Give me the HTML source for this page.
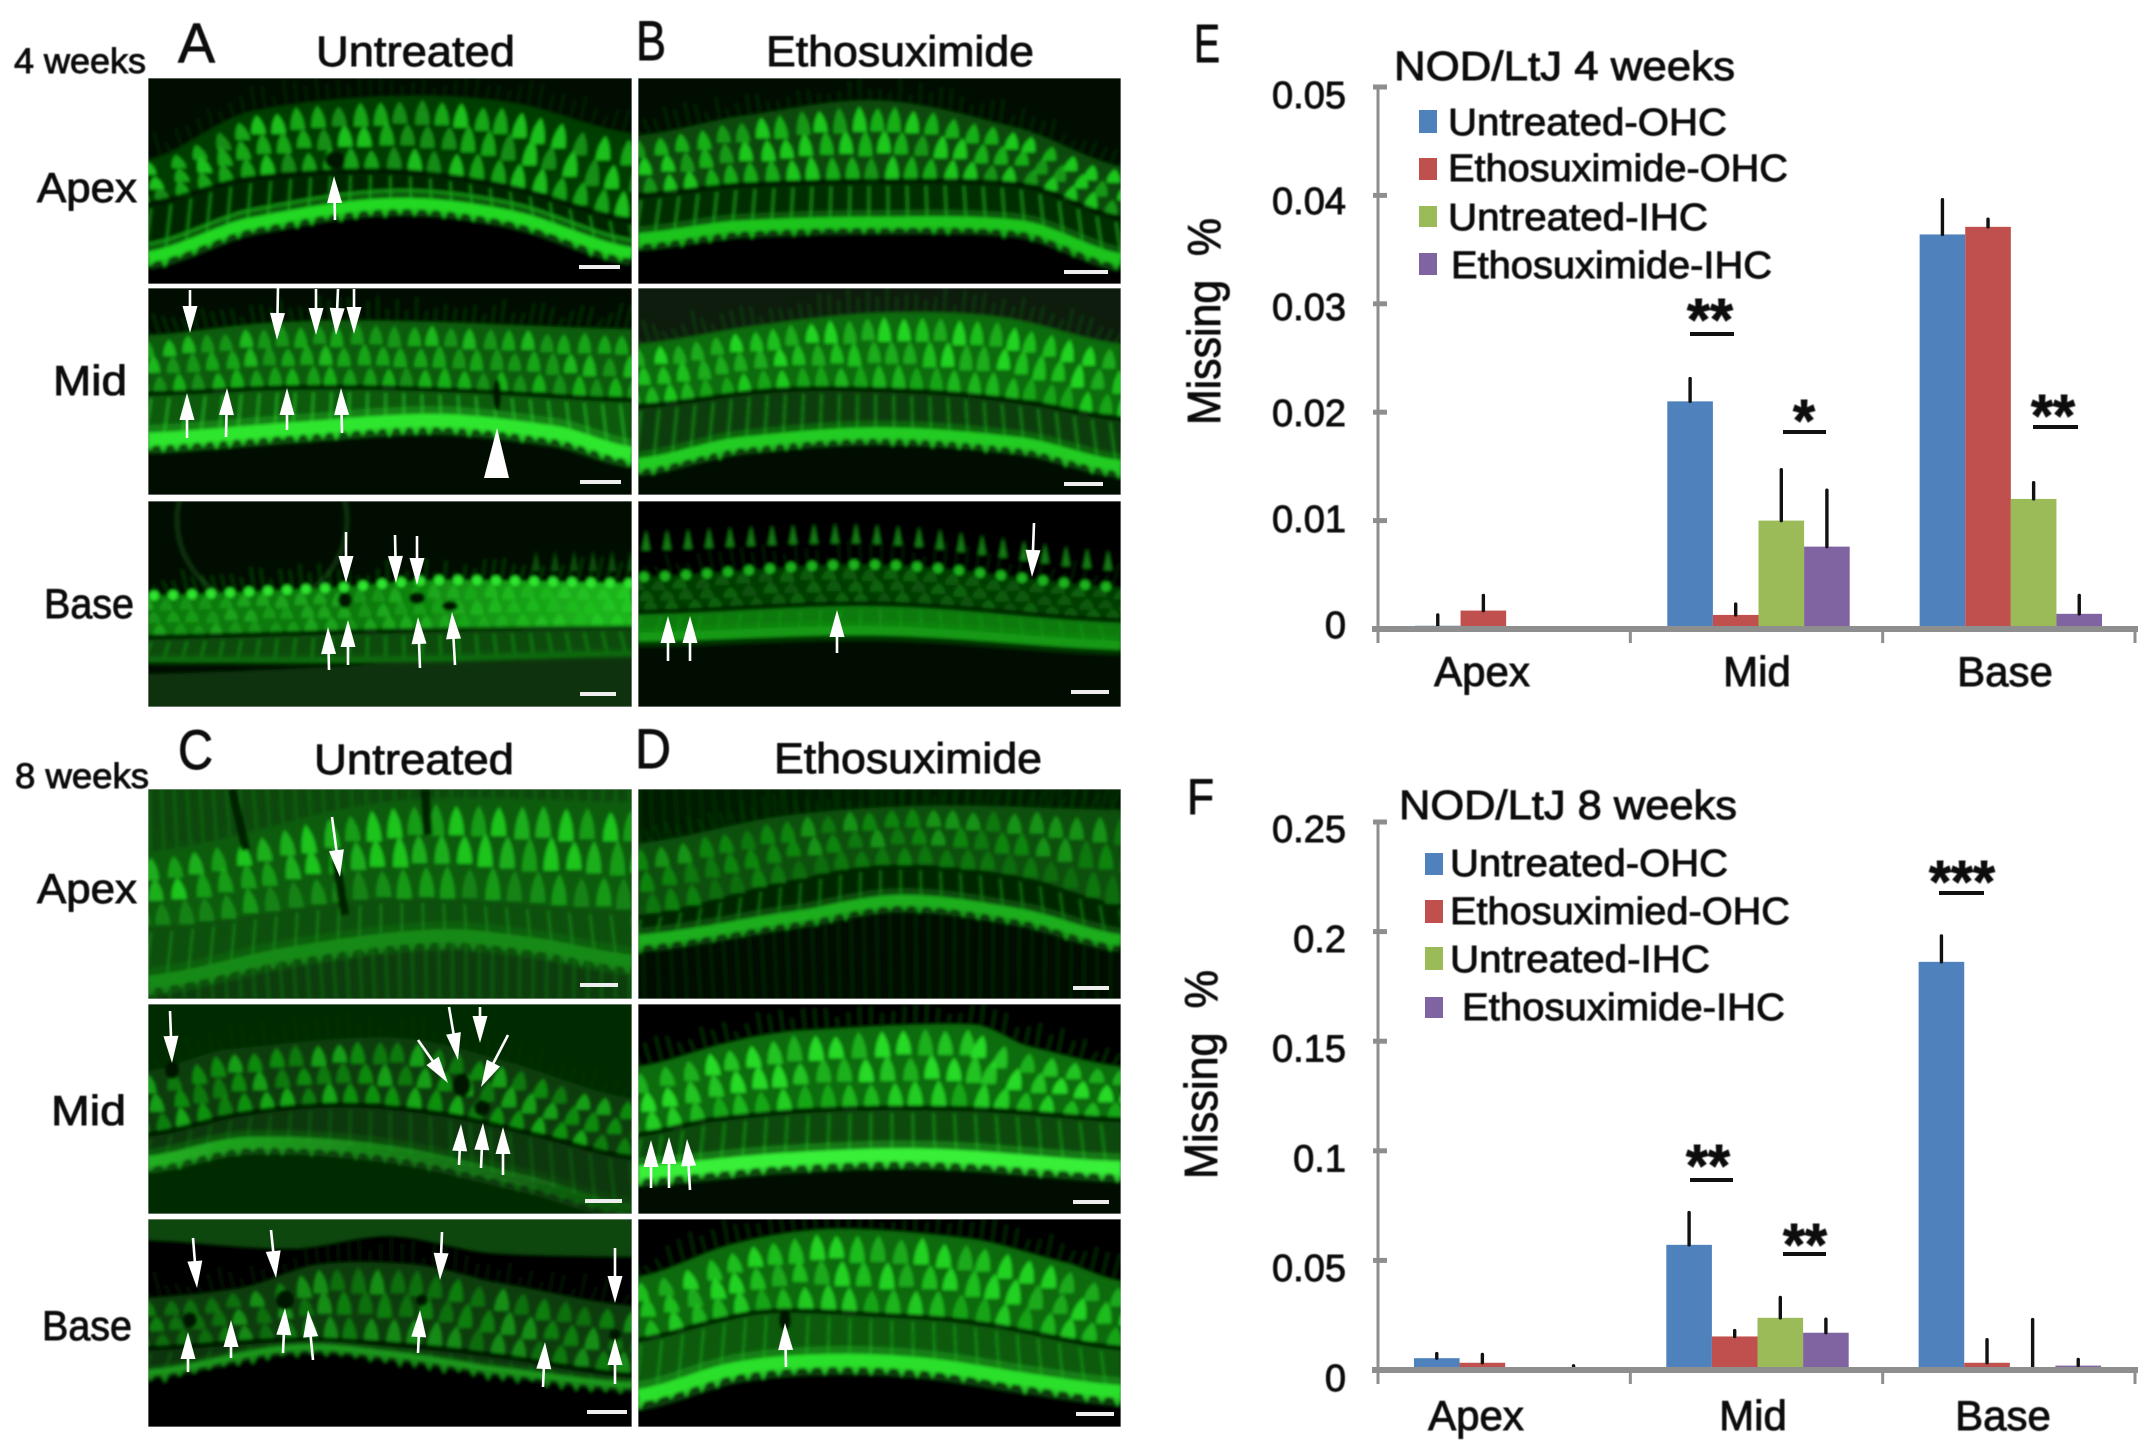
<!DOCTYPE html>
<html lang="en">
<head>
<meta charset="utf-8">
<title>Cochlear hair cell micrographs and missing-cell charts</title>
<style>
html,body{margin:0;padding:0;background:#fff;}
svg{display:block;}
text{font-family:"Liberation Sans",sans-serif;fill:#111;stroke:#111;stroke-width:.9px;}
</style>
</head>
<body>
<svg id="fig" xmlns="http://www.w3.org/2000/svg" width="2150" height="1454" viewBox="0 0 2150 1454">
  <defs>
    <filter id="soft" x="-5%" y="-5%" width="110%" height="110%"><feGaussianBlur stdDeviation="1.6"/></filter>
    <filter id="txtsoft" x="-2%" y="-2%" width="104%" height="104%"><feGaussianBlur stdDeviation="0.55"/></filter>
  </defs>
  <rect width="2150" height="1454" fill="#fff"/>
  <g id="micrographs"></g>
  <g id="arrows"></g>
  <g id="charts"></g>
  <g id="labels" filter="url(#txtsoft)">
    <text x="14" y="73" font-size="35" textLength="132" lengthAdjust="spacingAndGlyphs">4 weeks</text>
    <text x="178" y="62" font-size="56" textLength="37" lengthAdjust="spacingAndGlyphs">A</text>
    <text x="316" y="66" font-size="43" textLength="199" lengthAdjust="spacingAndGlyphs">Untreated</text>
    <text x="636" y="60" font-size="56" textLength="30" lengthAdjust="spacingAndGlyphs">B</text>
    <text x="766" y="66" font-size="43" textLength="268" lengthAdjust="spacingAndGlyphs">Ethosuximide</text>
    <text x="37" y="202" font-size="42" textLength="100" lengthAdjust="spacingAndGlyphs">Apex</text>
    <text x="53" y="395" font-size="42" textLength="74" lengthAdjust="spacingAndGlyphs">Mid</text>
    <text x="44" y="618" font-size="42" textLength="90" lengthAdjust="spacingAndGlyphs">Base</text>
    <text x="15" y="788" font-size="35" textLength="134" lengthAdjust="spacingAndGlyphs">8 weeks</text>
    <text x="178" y="769" font-size="56" textLength="35" lengthAdjust="spacingAndGlyphs">C</text>
    <text x="314" y="774" font-size="43" textLength="200" lengthAdjust="spacingAndGlyphs">Untreated</text>
    <text x="635" y="768" font-size="56" textLength="36" lengthAdjust="spacingAndGlyphs">D</text>
    <text x="774" y="773" font-size="43" textLength="268" lengthAdjust="spacingAndGlyphs">Ethosuximide</text>
    <text x="37" y="903" font-size="42" textLength="100" lengthAdjust="spacingAndGlyphs">Apex</text>
    <text x="51" y="1125" font-size="42" textLength="75" lengthAdjust="spacingAndGlyphs">Mid</text>
    <text x="42" y="1340" font-size="42" textLength="90" lengthAdjust="spacingAndGlyphs">Base</text>

    <text x="1194" y="62" font-size="54" textLength="26" lengthAdjust="spacingAndGlyphs">E</text>
    <text x="1394" y="80" font-size="41" textLength="341" lengthAdjust="spacingAndGlyphs">NOD/LtJ 4 weeks</text>
    <text x="1448" y="135" font-size="38" textLength="279" lengthAdjust="spacingAndGlyphs">Untreated-OHC</text>
    <text x="1448" y="181" font-size="38" textLength="340" lengthAdjust="spacingAndGlyphs">Ethosuximide-OHC</text>
    <text x="1448" y="230" font-size="38" textLength="260" lengthAdjust="spacingAndGlyphs">Untreated-IHC</text>
    <text x="1451" y="278" font-size="38" textLength="321" lengthAdjust="spacingAndGlyphs">Ethosuximide-IHC</text>
    <text transform="translate(1220,425) rotate(-90)" font-size="46" textLength="207" lengthAdjust="spacingAndGlyphs" xml:space="preserve">Missing  %</text>
    <text x="1687" y="340" font-size="59" font-weight="bold" textLength="46" lengthAdjust="spacingAndGlyphs">**</text>
    <text x="1793" y="441" font-size="59" font-weight="bold" textLength="22" lengthAdjust="spacingAndGlyphs">*</text>
    <text x="2031" y="436" font-size="59" font-weight="bold" textLength="44" lengthAdjust="spacingAndGlyphs">**</text>

    <text x="1187" y="814" font-size="50" textLength="27" lengthAdjust="spacingAndGlyphs">F</text>
    <text x="1399" y="819" font-size="41" textLength="338" lengthAdjust="spacingAndGlyphs">NOD/LtJ 8 weeks</text>
    <text x="1450" y="876" font-size="38" textLength="278" lengthAdjust="spacingAndGlyphs">Untreated-OHC</text>
    <text x="1450" y="924" font-size="38" textLength="340" lengthAdjust="spacingAndGlyphs">Ethosuximied-OHC</text>
    <text x="1450" y="972" font-size="38" textLength="260" lengthAdjust="spacingAndGlyphs">Untreated-IHC</text>
    <text x="1462" y="1020" font-size="38" textLength="323" lengthAdjust="spacingAndGlyphs">Ethosuximide-IHC</text>
    <text transform="translate(1217,1179) rotate(-90)" font-size="46" textLength="209" lengthAdjust="spacingAndGlyphs" xml:space="preserve">Missing  %</text>
    <text x="1929" y="902" font-size="59" font-weight="bold" textLength="66" lengthAdjust="spacingAndGlyphs">***</text>
    <text x="1686" y="1186" font-size="59" font-weight="bold" textLength="44" lengthAdjust="spacingAndGlyphs">**</text>
    <text x="1783" y="1265" font-size="59" font-weight="bold" textLength="44" lengthAdjust="spacingAndGlyphs">**</text>
  </g>
  <g id="static-marks">
    <rect x="1419" y="110" width="18" height="23" fill="#4f81bd"/>
    <rect x="1419" y="158" width="18" height="22" fill="#c0504d"/>
    <rect x="1419" y="206" width="18" height="21" fill="#9bbb59"/>
    <rect x="1419" y="253" width="18" height="22" fill="#8064a2"/>
    <rect x="1690" y="332" width="44" height="4" fill="#111"/>
    <rect x="1783" y="430" width="43" height="4" fill="#111"/>
    <rect x="2033" y="425" width="45" height="4" fill="#111"/>
    <rect x="1425" y="853" width="18" height="22" fill="#4f81bd"/>
    <rect x="1425" y="900" width="18" height="23" fill="#c0504d"/>
    <rect x="1425" y="947" width="18" height="23" fill="#9bbb59"/>
    <rect x="1425" y="997" width="18" height="21" fill="#8064a2"/>
    <rect x="1939" y="891" width="45" height="4" fill="#111"/>
    <rect x="1690" y="1178" width="43" height="4" fill="#111"/>
    <rect x="1783" y="1252" width="43" height="4" fill="#111"/>
  </g>
</svg>
<script>
// ---------- chart data ----------
const categories = ['Apex', 'Mid', 'Base'];
const seriesNames = ['untreated-ohc', 'ethosuximide-ohc', 'untreated-ihc', 'ethosuximide-ihc'];
const seriesColors = ['#4f81bd', '#c0504d', '#9bbb59', '#8064a2'];

const ticksE = [0, 0.01, 0.02, 0.03, 0.04, 0.05];
const untreatedOhcE = [0.0003, 0.021, 0.0364];
const ethosuximideOhcE = [0.0017, 0.0013, 0.0371];
const untreatedIhcE = [0, 0.01, 0.012];
const ethosuximideIhcE = [0, 0.0076, 0.0014];
const untreatedOhcErrTopE = [0.0013, 0.0231, 0.0396];
const ethosuximideOhcErrTopE = [0.0031, 0.0023, 0.0378];
const untreatedIhcErrTopE = [0, 0.0147, 0.0135];
const ethosuximideIhcErrTopE = [0, 0.0128, 0.0031];

const ticksF = ['0', '0.05', '0.1', '0.15', '0.2', '0.25'];
const untreatedOhcF = [0.0054, 0.0571, 0.1862];
const ethosuximideOhcF = [0.0033, 0.0153, 0.0033];
const untreatedIhcF = [0, 0.0238, 0];
const ethosuximideIhcF = [0, 0.017, 0.002];
const untreatedOhcErrTopF = [0.0075, 0.0718, 0.198];
const ethosuximideOhcErrTopF = [0.0071, 0.018, 0.0138];
const untreatedIhcErrTopF = [0, 0.0331, 0.023];
const ethosuximideIhcErrTopF = [0.0019, 0.0232, 0.0048];

// ---------- helpers ----------
const NS = 'http://www.w3.org/2000/svg';
function mk(tag, attrs, parent) {
  const e = document.createElementNS(NS, tag);
  for (const k in attrs) e.setAttribute(k, attrs[k]);
  if (parent) parent.appendChild(e);
  return e;
}

// ---------- charts ----------
function drawChart(layout, ticks, values, errTops) {
  const root = document.getElementById('charts');
  const g = mk('g', {}, root);
  
  
  const yMax = Number(ticks[ticks.length - 1]);
  const yScale = v => layout.y0 - (v / yMax) * (layout.y0 - layout.yTop);
  const groupW = (layout.xRight - layout.xLeft) / categories.length;
  const barW = layout.barW;
  const xScale = (c, s) => layout.xLeft + groupW * (c + 0.5) + layout.shift + (s - 2) * barW;
  const labelY = t => layout.labelTop + (1 - t / yMax) * (layout.labelBottom - layout.labelTop);

  values.forEach((series, s) => {
    series.forEach((v, c) => {
      const x = xScale(c, s);
      if (v > 0) {
        const bar = mk('rect', { x: x, y: yScale(v), width: barW, height: layout.y0 - yScale(v), fill: seriesColors[s] }, g);
        
        
      }
      const top = errTops[s][c];
      if (top > 0) {
        const err = mk('line', { x1: x + barW / 2, x2: x + barW / 2, y1: yScale(v), y2: yScale(top), stroke: '#111', 'stroke-width': 3.4, 'stroke-linecap': 'round' }, g);
        
        
      }
    });
  });

  const yAxis = mk('line', { x1: layout.xLeft, x2: layout.xLeft, y1: yScale(yMax), y2: layout.y0 + 14, stroke: '#8e8e8e', 'stroke-width': 3 }, g);
  
  
  const xAxis = mk('line', { x1: layout.xLeft - 6, x2: layout.xRight + 3, y1: layout.y0, y2: layout.y0, stroke: '#8e8e8e', 'stroke-width': 6 }, g);
  
  

  ticks.forEach(t => {
    const val = Number(t);
    if (val > 0) {
      const tick = mk('line', { x1: layout.xLeft - 5, x2: layout.xLeft + 9, y1: yScale(val), y2: yScale(val), stroke: '#8e8e8e', 'stroke-width': 5 }, g);
      
      
    }
    const lab = mk('text', { x: layout.labelX, y: labelY(val), 'font-size': 38, 'text-anchor': 'end', filter: 'url(#txtsoft)' }, g);
    lab.textContent = String(t);
    
    
  });

  for (let i = 0; i <= categories.length; i++) {
    const tx = layout.xLeft + groupW * i;
    const xt = mk('line', { x1: tx, x2: tx, y1: layout.y0, y2: layout.y0 + 14, stroke: '#8e8e8e', 'stroke-width': 3 }, g);
    
    
  }
  categories.forEach((cat, c) => {
    const lx = mk('text', { x: layout.catX[c], y: layout.catY, 'font-size': 42, 'text-anchor': 'middle', filter: 'url(#txtsoft)' }, g);
    lx.textContent = cat;
    
    
  });
}

drawChart(
  { name: 'chart-e', xLeft: 1378, xRight: 2135, y0: 629, yTop: 87, barW: 45.6, shift: 2, labelX: 1346, labelTop: 108, labelBottom: 638, catX: [1482, 1757, 2005], catY: 686 },
  ticksE,
  [untreatedOhcE, ethosuximideOhcE, untreatedIhcE, ethosuximideIhcE],
  [untreatedOhcErrTopE, ethosuximideOhcErrTopE, untreatedIhcErrTopE, ethosuximideIhcErrTopE]
);
drawChart(
  { name: 'chart-f', xLeft: 1378, xRight: 2135, y0: 1370, yTop: 822, barW: 45.6, shift: 1, labelX: 1346, labelTop: 842, labelBottom: 1391, catX: [1476, 1753, 2003], catY: 1430 },
  ticksF,
  [untreatedOhcF, ethosuximideOhcF, untreatedIhcF, ethosuximideIhcF],
  [untreatedOhcErrTopF, ethosuximideOhcErrTopF, untreatedIhcErrTopF, ethosuximideIhcErrTopF]
);

// ---------- micrograph rendering ----------
function cv(pts, t) {
  if (t <= pts[0][0]) return pts[0][1];
  const n = pts.length;
  if (t >= pts[n - 1][0]) return pts[n - 1][1];
  let i = 0;
  while (t > pts[i + 1][0]) i++;
  const p0 = pts[Math.max(i - 1, 0)][1], p1 = pts[i][1], p2 = pts[i + 1][1], p3 = pts[Math.min(i + 2, n - 1)][1];
  const u = (t - pts[i][0]) / (pts[i + 1][0] - pts[i][0]);
  return 0.5 * (2 * p1 + (p2 - p0) * u + (2 * p0 - 5 * p1 + 4 * p2 - p3) * u * u + (3 * p1 - p0 - 3 * p2 + p3) * u * u * u);
}
function f1(v) { return v.toFixed(1); }
function grain(i, j) { const s = Math.sin(i * 12.9898 + j * 78.233) * 43758.5453; return s - Math.floor(s); }

const colA = [148, 484], colB = [638, 483];
const panels = [
  { id: 'a-apex', x: colA[0], y: 78, w: colA[1], h: 206, bg: '#031003', body: '#063c06', c1: '#1cc01c', c2: '#1abc1a', low: '#052805', edge: '#22d822', edgeW: 11, streak: '#149614', pitch: 21, below: '#010501', thin: '#18a818',
    top: [[0,.40],[.2,.17],[.5,.09],[.75,.12],[1,.27]], gap: [[0,.61],[.2,.49],[.5,.45],[.75,.53],[1,.69]], edgeC: [[0,.87],[.2,.71],[.5,.61],[.75,.67],[1,.85]], holes: [[335,160,10,9]] },
  { id: 'a-mid', x: colA[0], y: 288, w: colA[1], h: 207, bg: '#021002', body: '#0a5c0a', c1: '#1cb81c', c2: '#18b018', low: '#0a5a0a', edge: '#2ee62e', edgeW: 13, streak: '#22b422', pitch: 19, below: '#011001',
    top: [[0,.23],[.25,.17],[.5,.16],[1,.20]], gap: [[0,.51],[.3,.48],[.6,.49],[1,.54]], edgeC: [[0,.73],[.3,.68],[.6,.64],[.85,.70],[1,.80]], holes: [[497,395,4,16]] },
  { id: 'a-base', x: colA[0], y: 501, w: colA[1], h: 206, bg: '#020e02', body: '#0d7a0d', c1: '#1aa41a', c2: '#1aa41a', low: '#0a4c0a', edge: '#0c6a0c', edgeW: 5, streak: '#108a10', pitch: 19, below: '#093009', belowStart: .84, dots: '#2ee62e', noTeeth: true,
    top: [[0,.46],[.4,.42],[.6,.385],[1,.40]], gap: [[0,.66],[.5,.63],[1,.61]], edgeC: [[0,.77],[.5,.77],[1,.74]], holes: [[345,600,7,8],[417,598,8,6],[450,606,8,5]], cones: [[.8,.3],[1,.3]], coneColor: '#0a4c0a', ring: [262,520,85], glowBand: '#2ae62a' },
  { id: 'b-apex', x: colB[0], y: 78, w: colB[1], h: 206, bg: '#031003', body: '#074a07', c1: '#1cc81c', c2: '#1cc41c', low: '#052e05', edge: '#1cc41c', edgeW: 11, streak: '#189e18', pitch: 20, below: '#010501',
    top: [[0,.28],[.2,.19],[.5,.11],[.8,.25],[1,.43]], gap: [[0,.57],[.2,.52],[.5,.50],[.8,.52],[1,.68]], edgeC: [[0,.78],[.2,.72],[.5,.70],[.8,.72],[1,.88]] },
  { id: 'b-mid', x: colB[0], y: 288, w: colB[1], h: 207, bg: '#0b1a0b', body: '#0c6c0c', c1: '#24d424', c2: '#1ec81e', low: '#083e08', edge: '#24cc24', edgeW: 11, streak: '#1a8e1a', pitch: 19, below: '#040d04',
    top: [[0,.27],[.25,.18],[.5,.12],[.75,.14],[1,.27]], gap: [[0,.57],[.3,.49],[.6,.50],[.8,.55],[1,.63]], edgeC: [[0,.85],[.2,.75],[.5,.70],[.8,.75],[1,.86]] },
  { id: 'b-base', x: colB[0], y: 501, w: colB[1], h: 206, bg: '#010401', body: '#063c06', c1: '#0d620d', c2: '#0d620d', low: '#0f7a0f', edge: '#129a12', edgeW: 9, streak: '#149214', pitch: 21, below: '#021002', dots: '#1fb41f', noTeeth: true,
    top: [[0,.37],[.5,.31],[1,.42]], gap: [[0,.54],[.5,.50],[1,.58]], edgeC: [[0,.66],[.5,.63],[1,.70]], cones: [[0,.2],[.5,.17],[1,.3]], coneColor: '#157a15' },
  { id: 'c-apex', x: colA[0], y: 789, w: colA[1], h: 210, bg: '#0a460a', body: '#0d5c0d', c1: '#1ec41e', c2: '#169a16', low: '#0b500b', edge: '#188a18', edgeW: 13, streak: '#1a861a', pitch: 22, below: '#083c08', streaksAll: true, streakOp: .5, noGap: true,
    top: [[0,.30],[.5,.06],[1,.06]], gap: [[0,.66],[.5,.52],[1,.58]], edgeC: [[0,.92],[.3,.78],[.6,.70],[.8,.74],[1,.82]], cracks: [[232,789,246,850],[425,789,428,835],[336,860,345,915]] },
  { id: 'c-mid', x: colA[0], y: 1004, w: colA[1], h: 210, bg: '#062a06', body: '#083e08', c1: '#149e14', c2: '#14a614', low: '#083808', edge: '#22b022', edgeW: 11, streak: '#0e5e0e', pitch: 21, below: '#062c06', edgeOps: [1, .55, .2],
    top: [[0,.32],[.15,.22],[.5,.16],[.7,.25],[1,.45]], gap: [[0,.62],[.2,.52],[.4,.48],[.6,.52],[.8,.62],[1,.73]], edgeC: [[0,.75],[.2,.66],[.5,.70],[.8,.85],[1,.98]], holes: [[172,1070,7,9],[462,1085,9,12],[482,1108,8,8]] },
  { id: 'c-base', x: colA[0], y: 1219, w: colA[1], h: 208, bg: '#000', body: '#083e08', c1: '#128e12', c2: '#128a12', low: '#083408', edge: '#1a961a', edgeW: 6, streak: '#0c5e0c', pitch: 21, below: '#000', topBand: '#0b460b',
    top: [[0,.38],[.2,.33],[.35,.22],[.55,.22],[.7,.30],[1,.42]], gap: [[0,.62],[.3,.58],[.5,.60],[.7,.65],[1,.75]], edgeC: [[0,.74],[.3,.62],[.5,.65],[.7,.72],[1,.80]], holes: [[190,1320,7,8],[285,1300,9,10],[422,1300,6,6],[615,1335,6,6]] },
  { id: 'd-apex', x: colB[0], y: 789, w: colB[1], h: 210, bg: '#041c04', body: '#0a500a', c1: '#129212', c2: '#0f800f', low: '#052805', edge: '#1cae1c', edgeW: 11, streak: '#0f7a0f', pitch: 21, below: '#021002', streaksAll: true, streakOp: .22, noGap: true,
    top: [[0,.26],[.3,.13],[.6,.08],[1,.10]], gap: [[0,.60],[.35,.42],[.55,.36],[.8,.42],[1,.55]], edgeC: [[0,.72],[.35,.60],[.55,.53],[.8,.60],[1,.72]] },
  { id: 'd-mid', x: colB[0], y: 1004, w: colB[1], h: 210, bg: '#010601', body: '#0c6c0c', c1: '#28da28', c2: '#20cc20', low: '#074a07', edge: '#38f038', edgeW: 13, streak: '#1a921a', pitch: 22, below: '#010701',
    top: [[0,.30],[.2,.18],[.32,.13],[.7,.10],[.8,.20],[1,.30]], gap: [[0,.62],[.15,.55],[.4,.50],[.7,.50],[1,.55]], edgeC: [[0,.80],[.3,.74],[.6,.72],[1,.78]] },
  { id: 'd-base', x: colB[0], y: 1219, w: colB[1], h: 208, bg: '#000', body: '#0b6a0b', c1: '#24d224', c2: '#20c820', low: '#0a5a0a', edge: '#2ae02a', edgeW: 13, streak: '#189618', pitch: 22, below: '#000',
    top: [[0,.28],[.2,.12],[.4,.05],[.7,.10],[.9,.22],[1,.30]], gap: [[0,.58],[.2,.47],[.3,.44],[.5,.46],[.7,.50],[1,.62]], edgeC: [[0,.85],[.2,.72],[.4,.68],[.6,.70],[.8,.77],[1,.83]], holes: [[785,1320,6,11]] }
];

function drawPanel(p, pi) {
  const root = document.getElementById('micrographs');
  const defs = document.querySelector('#fig defs');
  const clipId = 'clip-' + p.id;
  const clip = mk('clipPath', { id: clipId }, defs);
  mk('rect', { x: p.x, y: p.y, width: p.w, height: p.h }, clip);
  const outer = mk('g', { 'clip-path': 'url(#' + clipId + ')' }, root);
  
  
  const g = mk('g', { filter: 'url(#soft)' }, outer);
  mk('rect', { x: p.x - 8, y: p.y - 8, width: p.w + 16, height: p.h + 16, fill: p.bg }, g);

  const X = t => p.x + t * p.w;
  const Y = (c, t) => p.y + cv(c, t) * p.h;
  const N = 48;
  const line = c => {
    let s = '';
    for (let i = 0; i <= N; i++) s += (i ? 'L' : 'M') + f1(X(i / N)) + ' ' + f1(Y(c, i / N));
    return s;
  };
  const band = (a, b) => {
    let s = line(a);
    for (let i = N; i >= 0; i--) s += 'L' + f1(X(i / N)) + ' ' + f1(Y(b, i / N));
    return s + 'Z';
  };

  if (p.ring) mk('circle', { cx: p.ring[0], cy: p.ring[1], r: p.ring[2], fill: 'none', stroke: '#0a2e0a', 'stroke-width': 5 }, g);
  if (p.topBand) {
    mk('path', { d: band([[0, -.05], [1, -.05]], [[0, .1], [.3, .14], [.5, .08], [.7, .16], [1, .18]]), fill: p.topBand }, g);
  }
  const belowStart = p.belowStart ? [[0, p.belowStart], [1, p.belowStart - .1]] : p.edgeC;
  mk('path', { d: band(belowStart, [[0, 1.1], [1, 1.1]]), fill: p.below }, g);

  if (p.streaksAll) {
    let d = '';
    for (let x = p.x + 4; x < p.x + p.w; x += p.pitch * .62) {
      const t = (x - p.x) / p.w;
      const sl = (cv(p.top, Math.min(t + .02, 1)) - cv(p.top, Math.max(t - .02, 0))) / .04 * (p.h / p.w);
      d += 'M' + f1(x + sl * 30) + ' ' + p.y + 'L' + f1(x - sl * 30) + ' ' + (p.y + p.h);
    }
    mk('path', { d: d, stroke: p.streak, 'stroke-width': 2.2, fill: 'none', opacity: p.streakOp }, g);
  }

  // faint stereocilia fuzz above the top row
  let fz = '';
  for (let x = p.x + 2, n = 0; x < p.x + p.w; x += p.pitch * .5, n++) {
    const t = (x - p.x) / p.w;
    const y = Y(p.top, t);
    const ln = 8 + grain(n, pi) * 18;
    fz += 'M' + f1(x) + ' ' + f1(y) + 'L' + f1(x + (t - .5) * 14) + ' ' + f1(y - ln);
  }
  mk('path', { d: fz, stroke: p.body, 'stroke-width': 2.4, fill: 'none', opacity: .4 }, g);

  mk('path', { d: band(p.top, p.gap), fill: p.body }, g);
  mk('path', { d: band(p.gap, p.edgeC), fill: p.low }, g);

  // pillar streaks
  let sd = '';
  for (let x = p.x + 3; x < p.x + p.w; x += p.pitch * .95) {
    const t = (x - p.x) / p.w;
    sd += 'M' + f1(x) + ' ' + f1(Y(p.gap, t) + 5) + 'L' + f1(x + (t - .5) * 12) + ' ' + f1(Y(p.edgeC, t));
  }
  mk('path', { d: sd, stroke: p.streak, 'stroke-width': 2.6, fill: 'none', opacity: .75 }, g);

  // rows of outer hair cells, three brightness tiers
  const rows = [{ f: .22, c: p.c1, off: 0 }, { f: .52, c: p.c1, off: .33 }, { f: .84, c: p.c2, off: .66 }];
  rows.forEach((r, ri) => {
    const tiers = ['', '', ''];
    for (let k = -1; ; k++) {
      const cx0 = p.x + (k + r.off) * p.pitch + (grain(k, ri + pi) - .5) * 3;
      if (cx0 > p.x + p.w + p.pitch) break;
      const t = Math.min(Math.max((cx0 - p.x) / p.w, 0), 1);
      const yt = Y(p.top, t), yg = Y(p.gap, t);
      const rowH = (yg - yt) / 3;
      const cy = yt + (yg - yt) * r.f + (grain(ri + pi, k) - .5) * 3;
      const slope = (cv(p.top, Math.min(t + .02, 1)) - cv(p.top, Math.max(t - .02, 0))) / .04 * (p.h / p.w);
      const h = rowH * (.78 + grain(k + 3, ri) * .2), w = p.pitch * .68;
      const lean = slope * h * .55;
      const cx = cx0 - slope * (yg - cy) * .5;
      const d = 'M' + f1(cx + lean) + ' ' + f1(cy - h / 2) +
           'Q' + f1(cx + w / 2 + lean * .4) + ' ' + f1(cy - h * .1) + ' ' + f1(cx + w / 2) + ' ' + f1(cy + h / 2) +
           'L' + f1(cx - w / 2) + ' ' + f1(cy + h / 2) +
           'Q' + f1(cx - w / 2 + lean * .4) + ' ' + f1(cy - h * .1) + ' ' + f1(cx + lean) + ' ' + f1(cy - h / 2) + 'Z';
      tiers[Math.floor(grain(k * 2 + 1, ri + pi * 3) * 3)] += d;
    }
    [.62, .8, 1].forEach((op, i) => {
      mk('path', { d: tiers[i], fill: r.c, opacity: op }, g);
    });
  });

  if (!p.noGap) mk('path', { d: line(p.gap), stroke: '#021002', 'stroke-width': 5, fill: 'none', opacity: .75 }, g);

  if (p.glowBand) {
    const glowId = 'glow-' + p.id;
    const glowGrad = mk('linearGradient', { id: glowId, gradientUnits: 'userSpaceOnUse', x1: p.x, y1: 0, x2: p.x + p.w, y2: 0 }, defs);
    mk('stop', { offset: .45, 'stop-color': p.glowBand, 'stop-opacity': 0 }, glowGrad);
    mk('stop', { offset: .95, 'stop-color': p.glowBand, 'stop-opacity': .55 }, glowGrad);
    mk('path', { d: band(p.top, p.gap), fill: 'url(#' + glowId + ')' }, g);
  }

  if (p.dots) {
    let d = '';
    for (let x = p.x + 6; x < p.x + p.w; x += p.pitch) {
      const t = (x - p.x) / p.w;
      const y = Y(p.top, t);
      d += 'M' + f1(x - 5) + ' ' + f1(y) + 'a5 5 0 1 0 10 0a5 5 0 1 0 -10 0Z';
    }
    mk('path', { d: d, fill: p.dots }, g);
  }
  if (p.cones) {
    let d = '';
    for (let x = p.x + 8; x < p.x + p.w; x += p.pitch) {
      const t = (x - p.x) / p.w;
      if (t < p.cones[0][0]) continue;
      const y = Y(p.cones, t);
      d += 'M' + f1(x) + ' ' + f1(y - 12) + 'L' + f1(x + 4) + ' ' + f1(y + 8) + 'L' + f1(x - 4) + ' ' + f1(y + 8) + 'Z';
    }
    mk('path', { d: d, fill: p.coneColor }, g);
  }

  // bright lower edge with jagged teeth
  let edgePaint = p.edge;
  if (p.edgeOps) {
    const gradId = 'edge-' + p.id;
    const lg = mk('linearGradient', { id: gradId, gradientUnits: 'userSpaceOnUse', x1: p.x, y1: 0, x2: p.x + p.w, y2: 0 }, defs);
    p.edgeOps.forEach((o, i) => {
      mk('stop', { offset: i / (p.edgeOps.length - 1), 'stop-color': p.edge, 'stop-opacity': o }, lg);
    });
    edgePaint = 'url(#' + gradId + ')';
  }
  mk('path', { d: line(p.edgeC), stroke: edgePaint, 'stroke-width': p.edgeW * 2.2, fill: 'none', opacity: .28 }, g);
  mk('path', { d: line(p.edgeC), stroke: edgePaint, 'stroke-width': p.edgeW, fill: 'none' }, g);
  if (!p.noTeeth) {
    let td = '';
    for (let x = p.x + 2, n = 0; x < p.x + p.w; x += p.pitch * .7, n++) {
      const t = (x - p.x) / p.w;
      const y = Y(p.edgeC, t) + p.edgeW / 2 - 1;
      td += 'M' + f1(x - 5) + ' ' + f1(y) + 'L' + f1(x + 5) + ' ' + f1(y) + 'L' + f1(x) + ' ' + f1(y + 5 + grain(n, pi) * 5) + 'Z';
    }
    mk('path', { d: td, fill: edgePaint, opacity: .85 }, g);
  }
  if (p.thin) {
    let s = '';
    for (let i = 0; i <= N; i++) s += (i ? 'L' : 'M') + f1(X(i / N)) + ' ' + f1(Y(p.edgeC, i / N) - 13);
    mk('path', { d: s, stroke: p.thin, 'stroke-width': 3, fill: 'none', opacity: .8 }, g);
  }

  (p.holes || []).forEach(h => {
    mk('ellipse', { cx: h[0], cy: h[1], rx: h[2], ry: h[3], fill: '#031403' }, g);
  });
  (p.cracks || []).forEach(c => {
    mk('line', { x1: c[0], y1: c[1], x2: c[2], y2: c[3], stroke: '#042004', 'stroke-width': 9 }, g);
  });
  const frame = mk('rect', { x: p.x, y: p.y, width: p.w, height: p.h, fill: 'none', stroke: '#bdbdbd', 'stroke-width': 1 }, outer);
  
  
}
panels.forEach(drawPanel);

// ---------- arrows and scale bars ----------
const arrowSegments = [
  [334,176,335,220],
  [190,333,190,290],[277,340,278,287],[316,335,316,289],[336,335,338,289],[354,334,354,289],
  [187,393,187,438],[227,388,226,437],[287,388,287,430],[341,388,342,433],
  [346,583,346,532],[396,583,395,535],[417,585,417,536],
  [328,627,329,670],[348,620,348,665],[418,617,420,668],[452,612,455,665],
  [1032,577,1034,523],[668,616,668,661],[690,616,690,661],[837,610,837,653],
  [340,877,332,817],
  [172,1063,170,1011],[458,1060,449,1007],[480,1043,480,1007],[448,1083,418,1040],[481,1087,508,1035],
  [461,1124,459,1165],[483,1123,481,1168],[503,1127,503,1175],
  [651,1140,651,1188],[669,1137,669,1188],[687,1139,690,1190],
  [197,1288,193,1238],[276,1278,271,1230],[440,1280,442,1232],[615,1303,615,1248],
  [188,1332,188,1372],[231,1320,231,1358],[285,1308,283,1353],[308,1310,313,1360],
  [420,1310,418,1353],[545,1342,543,1387],[615,1338,615,1384],
  [785,1323,786,1367]
];
const arrowsRoot = document.getElementById('arrows');
arrowSegments.forEach(a => {
  const tx = a[0], ty = a[1], bx = a[2], by = a[3];
  const len = Math.hypot(bx - tx, by - ty);
  const ux = (bx - tx) / len, uy = (by - ty) / len;
  const hl = 27, hw = 7.5;
  const arrowG = mk('g', {}, arrowsRoot);
  
  
  mk('line', { x1: tx + ux * 10, y1: ty + uy * 10, x2: bx, y2: by, stroke: '#fff', 'stroke-width': 2.6 }, arrowG);
  const hx = tx + ux * hl, hy = ty + uy * hl;
  mk('polygon', { points: tx + ',' + ty + ' ' + (hx - uy * hw) + ',' + (hy + ux * hw) + ' ' + (hx + uy * hw) + ',' + (hy - ux * hw), fill: '#fff' }, arrowG);
});
const bigHead = mk('polygon', { points: '497,428 484,478 509,478', fill: '#fff' }, arrowsRoot);



const scaleBarEnds = [
  [579,620,267],[580,621,482],[580,616,694],
  [1064,1108,272],[1064,1103,484],[1071,1109,692],
  [580,618,985],[1073,1109,988],[585,622,1201],[1073,1109,1202],[587,627,1412],[1076,1114,1414]
];
scaleBarEnds.forEach(s => {
  const bar = mk('rect', { x: s[0], y: s[2] - 2, width: s[1] - s[0], height: 4, fill: '#eee' }, arrowsRoot);
  
  
});
</script>
</body>
</html>
